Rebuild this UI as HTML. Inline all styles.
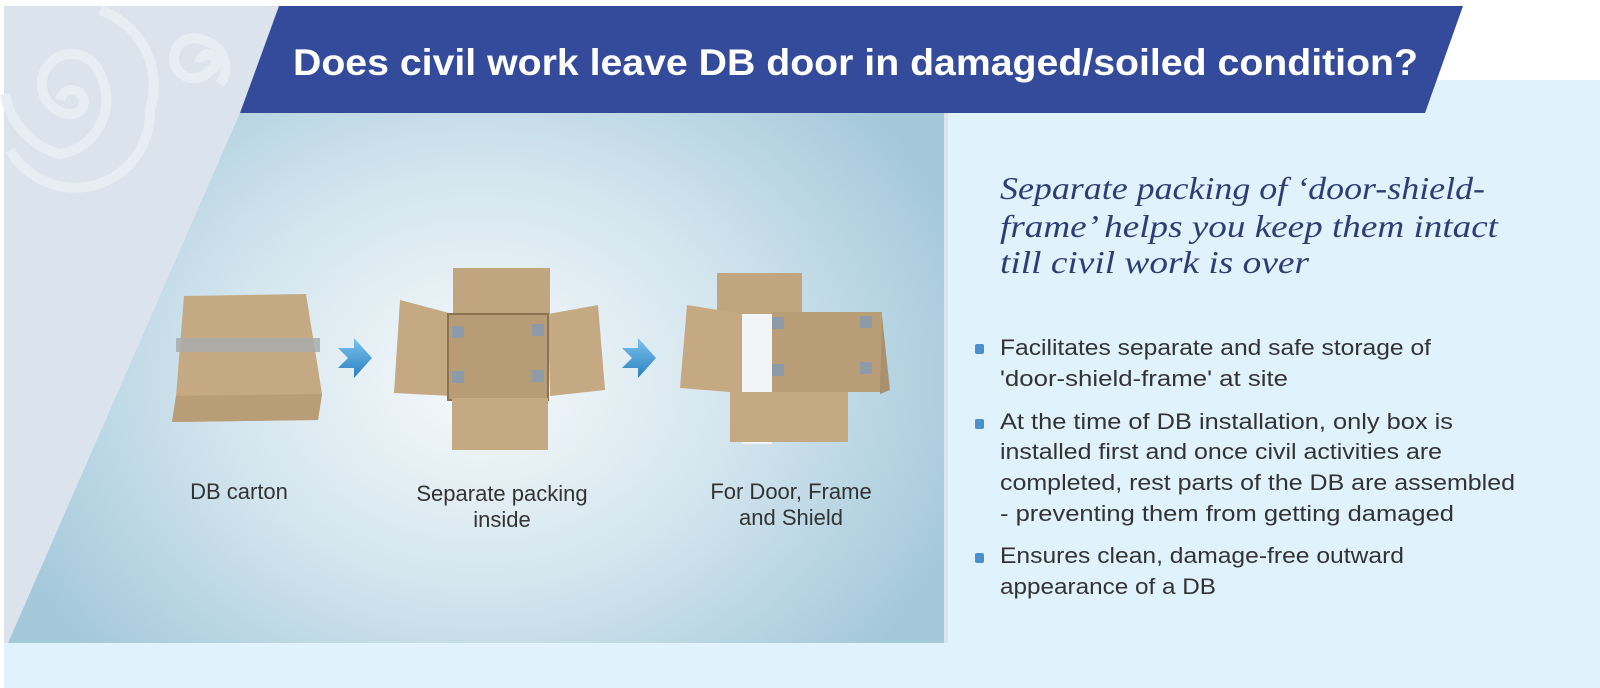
<!DOCTYPE html>
<html><head><meta charset="utf-8"><style>
html,body{margin:0;padding:0;width:1600px;height:688px;overflow:hidden;background:#fff}
svg{display:block}
.t{font-family:"Liberation Sans",sans-serif}
</style></head><body>
<svg width="1600" height="688" viewBox="0 0 1600 688" xmlns="http://www.w3.org/2000/svg">
<defs>
<radialGradient id="g" cx="480" cy="380" r="520" gradientUnits="userSpaceOnUse" gradientTransform="translate(480 380) scale(1 0.8) translate(-480 -380)">
<stop offset="0" stop-color="#f6f9fb"/><stop offset="0.5" stop-color="#d3e5ee"/><stop offset="1" stop-color="#a3c8da"/></radialGradient>
<linearGradient id="ar" x1="0" y1="0" x2="0" y2="1"><stop offset="0" stop-color="#7cc4ee"/><stop offset="1" stop-color="#2a7fc0"/></linearGradient>
</defs>
<rect x="0" y="0" width="1600" height="688" fill="#fff"/>
<rect x="4" y="6" width="944" height="640" fill="#dbe4ec"/>
<rect x="948" y="80" width="652" height="608" fill="#e0f2fc"/>
<rect x="4" y="643" width="1596" height="45" fill="#e0f2fc"/>
<polygon points="240,113 944,113 944,643 8,643" fill="url(#g)"/>
<!-- swirls -->
<g fill="none" stroke="#e6edf3" stroke-width="10">
<path d="M60,100 a12,12 0 1 1 12,14 a30,30 0 1 1 28,-40 a55,55 0 0 1 -40,80 a75,75 0 0 1 -55,-60"/>
<path d="M100,10 a80,80 0 0 1 50,100 a75,75 0 0 1 -140,40"/>
<path d="M200,62 a8,8 0 1 1 10,8 a20,20 0 1 1 -8,-30 a28,28 0 0 1 18,44"/>
</g>
<polygon points="279,6 1463,6 1425,113 240,113" fill="#344b9c"/>
<text x="293" y="75" class="t" font-size="37" font-weight="bold" fill="#fff" textLength="1125" lengthAdjust="spacingAndGlyphs">Does civil work leave DB door in damaged/soiled condition?</text>
<!-- box 1 -->
<polygon points="184,296 306,294 322,394 318,420 172,422 176,396" fill="#c4a982"/>
<polygon points="176,396 322,394 318,420 172,422" fill="#b99d76"/>
<rect x="176" y="338" width="144" height="14" fill="#a8acab" opacity="0.85"/>
<!-- arrow 1 -->
<path d="M338,348 l16,0 l0,-10 l18,20 l-18,20 l0,-10 l-16,0 l10,-10 z" fill="url(#ar)"/>
<!-- box 2 -->
<rect x="453" y="268" width="97" height="48" fill="#c0a57f"/>
<polygon points="400,300 453,314 451,396 394,393" fill="#c4a982"/>
<polygon points="548,314 598,305 605,390 550,396" fill="#c4a982"/>
<rect x="448" y="314" width="100" height="86" fill="#b89c75" stroke="#8a7456" stroke-width="2"/>
<rect x="452" y="398" width="96" height="52" fill="#c4a982"/>
<rect x="452" y="326" width="12" height="12" fill="#8d9aa8"/><rect x="532" y="324" width="12" height="12" fill="#8d9aa8"/>
<rect x="452" y="371" width="12" height="12" fill="#8d9aa8"/><rect x="532" y="370" width="12" height="12" fill="#8d9aa8"/>
<!-- arrow 2 -->
<path d="M622,348 l16,0 l0,-10 l18,20 l-18,20 l0,-10 l-16,0 l10,-10 z" fill="url(#ar)"/>
<!-- box 3 -->
<rect x="717" y="273" width="85" height="45" fill="#c0a57f"/>
<polygon points="687,305 743,314 742,393 680,388" fill="#c4a982"/>
<rect x="742" y="314" width="30" height="130" fill="#f2f5f7"/>
<rect x="772" y="312" width="110" height="80" fill="#b99d76"/>
<polygon points="882,316 890,390 880,394" fill="#a8916e"/>
<rect x="730" y="392" width="118" height="50" fill="#c4a982"/>
<rect x="772" y="317" width="12" height="12" fill="#8d9aa8"/><rect x="860" y="316" width="12" height="12" fill="#8d9aa8"/>
<rect x="772" y="364" width="12" height="12" fill="#8d9aa8"/><rect x="860" y="362" width="12" height="12" fill="#8d9aa8"/>
<g class="t" font-size="22" fill="#333" text-anchor="middle">
<text x="239" y="499">DB carton</text>
<text x="502" y="501">Separate packing</text><text x="502" y="527">inside</text>
<text x="791" y="499">For Door, Frame</text><text x="791" y="525">and Shield</text>
</g>
<g font-family="Liberation Serif,serif" font-style="italic" font-size="32" fill="#2d3e75" lengthAdjust="spacingAndGlyphs">
<text x="1000" y="199" textLength="485" lengthAdjust="spacingAndGlyphs">Separate packing of ‘door-shield-</text>
<text x="1000" y="237" textLength="498" lengthAdjust="spacingAndGlyphs">frame’ helps you keep them intact</text>
<text x="1000" y="273" textLength="309" lengthAdjust="spacingAndGlyphs">till civil work is over</text>
</g>
<g fill="#4a8fce"><rect x="975" y="344" width="9" height="10" rx="2"/><rect x="975" y="419" width="9" height="10" rx="2"/><rect x="975" y="553" width="9" height="10" rx="2"/></g>
<g class="t" font-size="22" fill="#333">
<text x="1000" y="355" textLength="431" lengthAdjust="spacingAndGlyphs">Facilitates separate and safe storage of</text>
<text x="1000" y="386" textLength="288" lengthAdjust="spacingAndGlyphs">'door-shield-frame' at site</text>
<text x="1000" y="429" textLength="453" lengthAdjust="spacingAndGlyphs">At the time of DB installation, only box is</text>
<text x="1000" y="459" textLength="442" lengthAdjust="spacingAndGlyphs">installed first and once civil activities are</text>
<text x="1000" y="490" textLength="515" lengthAdjust="spacingAndGlyphs">completed, rest parts of  the DB are assembled</text>
<text x="1000" y="521" textLength="454" lengthAdjust="spacingAndGlyphs">- preventing them from getting damaged</text>
<text x="1000" y="563" textLength="404" lengthAdjust="spacingAndGlyphs">Ensures clean, damage-free outward</text>
<text x="1000" y="594" textLength="216" lengthAdjust="spacingAndGlyphs">appearance of a DB</text>
</g>
</svg>
</body></html>
